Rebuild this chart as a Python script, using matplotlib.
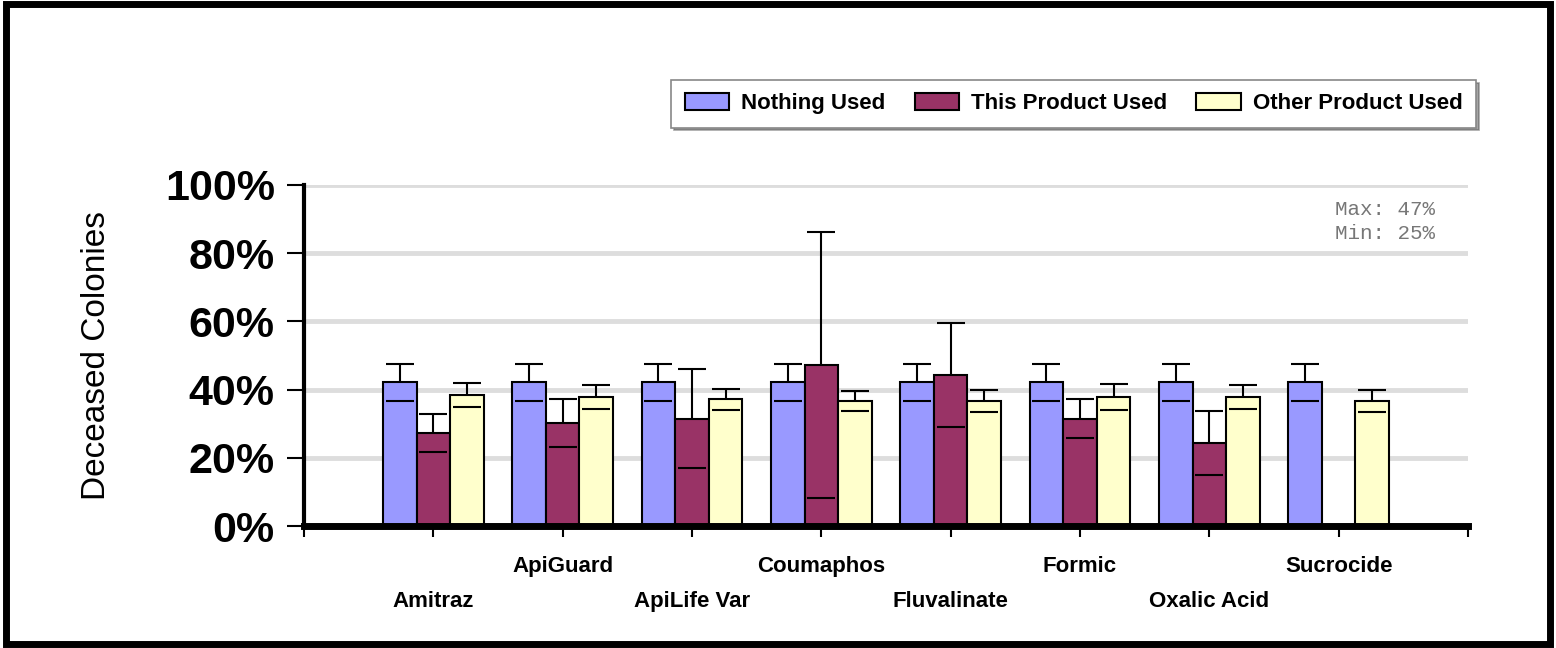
import numpy as np
import matplotlib
matplotlib.use("Agg")
import matplotlib.pyplot as plt
from matplotlib.patches import Rectangle
import matplotlib.transforms as mtransforms

plt.rcParams["font.family"] = ["Liberation Sans", "DejaVu Sans"]

categories = ["Amitraz", "ApiGuard", "ApiLife Var", "Coumaphos",
              "Fluvalinate", "Formic", "Oxalic Acid", "Sucrocide"]
series_names = ["Nothing Used", "This Product Used", "Other Product Used"]

nothing = [42.1, 42.1, 42.1, 42.1, 42.1, 42.1, 42.1, 42.1]
nothing_err = [5.3, 5.3, 5.3, 5.3, 5.3, 5.3, 5.3, 5.3]
this_prod = [27.2, 30.1, 31.5, 47.3, 44.3, 31.5, 24.4, np.nan]
this_err = [5.5, 7.0, 14.6, 39.0, 15.3, 5.8, 9.4, np.nan]
other = [38.4, 37.8, 37.2, 36.7, 36.7, 37.8, 37.8, 36.7]
other_err = [3.5, 3.5, 3.1, 3.0, 3.2, 3.8, 3.5, 3.2]

colors = ["#9999FF", "#993366", "#FFFFCC"]

fig = plt.figure(figsize=(15.56, 6.48), dpi=100)
ax = fig.add_axes([304 / 1556, 1 - 526 / 648, (1468 - 304) / 1556, (526 - 185) / 648])

x = np.arange(1, len(categories) + 1)
width = 0.26
offsets = [-width, 0, width]
values = [nothing, this_prod, other]
errors = [nothing_err, this_err, other_err]

for i in range(3):
    v = np.array(values[i]) / 100
    e = np.array(errors[i]) / 100
    xs = x + offsets[i]
    ax.bar(xs, v, width, color=colors[i], edgecolor="black", linewidth=1.5,
           zorder=2, label=series_names[i])
    eb = ax.errorbar(xs, v, yerr=[e, e], fmt="none", ecolor="black",
                     elinewidth=1.5, capsize=10, capthick=1.5, zorder=1)
    # lower cap shows on top of the bar, the stem below the bar top stays hidden
    for cap in eb[1]:
        cap.set_zorder(3)

ax.set_xlim(0, 9)
ax.set_ylim(0, 1)
ax.set_xticks(np.arange(0, 10))
ax.set_xticklabels([])
yt = np.arange(0, 1.01, 0.2)
ax.set_yticks(yt)
ax.set_yticklabels([f"{int(round(t * 100))}%" for t in yt],
                   fontsize=31, fontweight="bold")
ax.tick_params(axis="y", direction="out", length=12, width=1.5, pad=9)
ax.tick_params(axis="x", direction="out", length=8, width=1.5)

ax.grid(axis="y", color="#dddddd", linewidth=3.5, zorder=0)
ax.set_axisbelow(True)
ax.spines["top"].set_visible(False)
ax.spines["right"].set_visible(False)
ax.spines["left"].set_linewidth(3)
ax.spines["bottom"].set_linewidth(5)
ax.spines["bottom"].set_zorder(4)

trans = mtransforms.blended_transform_factory(ax.transData, ax.transAxes)
for i, name in enumerate(categories):
    yy = -0.12 if i % 2 == 1 else -0.22
    ax.text(x[i], yy, name, transform=trans, ha="center", va="center",
            fontsize=16, fontweight="bold")

fig.text(97 / 1556, 1 - 356 / 648, "Deceased Colonies", rotation=90,
         fontsize=24, ha="center", va="center")

ax.text(0.886, 0.955, "Max: 47%\nMin: 25%", transform=ax.transAxes,
        family="Liberation Mono", fontsize=15, color="#777777",
        va="top", ha="left", linespacing=1.3)

leg = fig.legend(loc="upper right", bbox_to_anchor=(1476 / 1556, 1 - 80 / 648),
                 ncol=3, prop={"weight": "bold", "size": 16},
                 frameon=True, fancybox=False, shadow=True, edgecolor="#888888",
                 handlelength=2.0, handleheight=0.75, columnspacing=1.3,
                 borderpad=0.6, handletextpad=0.55, borderaxespad=0)
leg.get_frame().set_linewidth(1.2)

fig.patches.append(Rectangle((0.004, 0.006), 0.992, 0.988, transform=fig.transFigure,
                             fill=False, edgecolor="black", linewidth=5))

plt.savefig("out.png", dpi=100)
